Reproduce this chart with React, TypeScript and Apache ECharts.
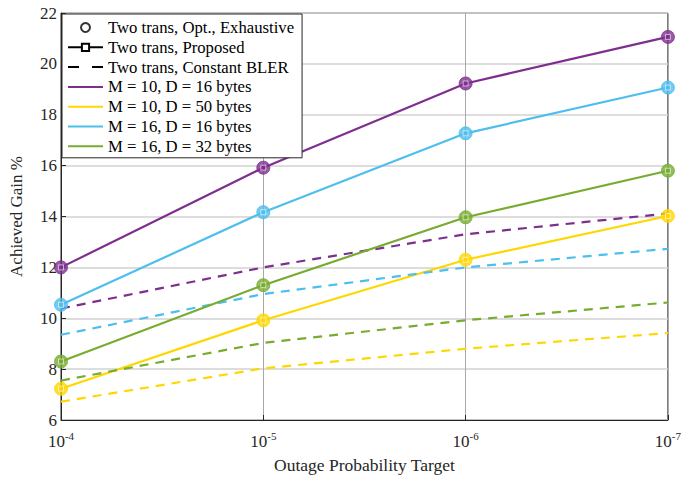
import React, { useEffect, useRef } from "react";
import * as echarts from "echarts";

// Outage probability targets (x axis, log scale, shown decreasing)
const outageTargets = [1e-4, 1e-5, 1e-6, 1e-7];

// Configurations: legend names and colours
const configNames = [
  "M = 10, D = 16 bytes",
  "M = 10, D = 50 bytes",
  "M = 16, D = 16 bytes",
  "M = 16, D = 32 bytes",
];
const configColors = ["#7E2F8E", "#FFD700", "#4DBEEE", "#77AC30"];

// Achieved gain (%) – proposed two-transmission scheme
const proposedM10D16 = [12.0, 15.92, 19.23, 21.06];
const proposedM10D50 = [7.23, 9.92, 12.3, 14.02];
const proposedM16D16 = [10.53, 14.17, 17.27, 19.07];
const proposedM16D32 = [8.3, 11.3, 13.97, 15.8];

// Exhaustive optimum
const exhaustiveM10D16 = [12.0, 15.92, 19.23, 21.06];
const exhaustiveM10D50 = [7.23, 9.92, 12.3, 14.02];
const exhaustiveM16D16 = [10.53, 14.17, 17.27, 19.07];
const exhaustiveM16D32 = [8.3, 11.3, 13.97, 15.8];

// Constant BLER baseline
const constantM10D16 = [10.38, 12.0, 13.3, 14.12];
const constantM10D50 = [6.72, 8.03, 8.8, 9.42];
const constantM16D16 = [9.35, 10.95, 12.0, 12.73];
const constantM16D32 = [7.55, 9.03, 9.92, 10.62];

const proposed = [proposedM10D16, proposedM10D50, proposedM16D16, proposedM16D32];
const exhaustive = [exhaustiveM10D16, exhaustiveM10D50, exhaustiveM16D16, exhaustiveM16D32];
const constant = [constantM10D16, constantM10D50, constantM16D16, constantM16D32];

const legendOpt = "Two trans, Opt., Exhaustive";
const legendProp = "Two trans, Proposed";
const legendConst = "Two trans, Constant BLER";

const FONT = "'Liberation Serif', 'Times New Roman', serif";

// Minor log grid positions between the decades
const minorGridValues: number[] = [];
for (let n = 4; n < 7; n++) {
  for (let k = 2; k <= 9; k++) minorGridValues.push(k * Math.pow(10, -(n + 1)));
}

const pairs = (ys: number[]) => outageTargets.map((x, i) => [x, ys[i]]);

export default function App() {
  const ref = useRef<HTMLDivElement>(null);

  useEffect(() => {
    if (!ref.current) return;
    const chart = echarts.init(ref.current, undefined, { renderer: "svg" });

    const series: any[] = [
      {
        name: legendOpt,
        type: "scatter",
        data: [],
        symbol: "circle",
        symbolSize: 10,
        itemStyle: { color: "#fff", borderColor: "#000", borderWidth: 3 },
      },
      {
        name: legendProp,
        type: "line",
        data: [],
        symbol: "rect",
        symbolSize: 6,
        itemStyle: { color: "#fff", borderColor: "#000", borderWidth: 2 },
        lineStyle: { color: "#000", width: 2.2 },
      },
      {
        name: legendConst,
        type: "line",
        data: [],
        symbol: "none",
        itemStyle: { color: "#000" },
        lineStyle: { color: "#000", width: 2.5, type: [9, 7] },
      },
      {
        name: "minor-grid",
        type: "line",
        data: [],
        silent: true,
        markLine: {
          silent: true,
          symbol: "none",
          label: { show: false },
          lineStyle: { color: "#d4d4d4", width: 1, type: [1.5, 2] },
          data: minorGridValues.map((v) => ({ xAxis: v })),
        },
      },
    ];

    configNames.forEach((name, i) => {
      const color = configColors[i];
      series.push({
        name,
        type: "line",
        data: pairs(proposed[i]),
        symbol: "none",
        z: 3,
        itemStyle: { color },
        lineStyle: { color, width: 2.2 },
      });
      series.push({
        name: name + " (constant BLER)",
        type: "line",
        data: pairs(constant[i]),
        symbol: "none",
        z: 3,
        itemStyle: { color },
        lineStyle: { color, width: 2.2, type: [9, 7] },
      });
      series.push({
        name: name + " (exhaustive)",
        type: "scatter",
        data: pairs(exhaustive[i]),
        symbol: "circle",
        symbolSize: 13,
        z: 4,
        itemStyle: { color, borderColor: color, borderWidth: 1 },
      });
      series.push({
        name: name + " (proposed)",
        type: "scatter",
        data: pairs(proposed[i]),
        symbol: "rect",
        symbolSize: 5,
        z: 5,
        itemStyle: { color, borderColor: "rgba(255,255,255,0.75)", borderWidth: 1 },
      });
    });

    const hiddenSymbol = { opacity: 0 };

    chart.setOption({
      animation: false,
      backgroundColor: "#fff",
      grid: {
        left: 60,
        right: 11,
        top: 13,
        bottom: 55,
        show: true,
        borderColor: "#262626",
        borderWidth: 1,
        backgroundColor: "transparent",
      },
      legend: {
        orient: "vertical",
        left: 62,
        top: 14,
        padding: [5, 8, 3, 5],
        itemWidth: 35,
        itemHeight: 9,
        itemGap: 2.8,
        backgroundColor: "#fff",
        borderColor: "#262626",
        borderWidth: 1,
        textStyle: { fontFamily: FONT, fontSize: 16.7, color: "#000" },
        data: [
          { name: legendOpt },
          { name: legendProp },
          { name: legendConst, itemStyle: hiddenSymbol, lineStyle: { type: [11, 13] } },
          ...configNames.map((n) => ({ name: n, itemStyle: hiddenSymbol })),
        ],
        selectedMode: false,
      },
      xAxis: {
        type: "log",
        logBase: 10,
        min: 1e-7,
        max: 1e-4,
        inverse: true,
        name: "Outage Probability Target",
        nameLocation: "middle",
        nameGap: 36,
        nameTextStyle: { fontFamily: FONT, fontSize: 17.5, color: "#262626" },
        axisLine: { lineStyle: { color: "#262626", width: 1 } },
        axisTick: { inside: true, length: 5, lineStyle: { color: "#262626" } },
        axisLabel: {
          margin: 10,
          formatter: (v: number) => `{b|10}{s|${Math.round(Math.log10(v))}}`,
          rich: {
            b: { fontFamily: FONT, fontSize: 17, color: "#262626", verticalAlign: "bottom", lineHeight: 20 },
            s: { fontFamily: FONT, fontSize: 11, color: "#262626", verticalAlign: "top", lineHeight: 20, padding: [0, 0, 9, 0] },
          },
        },
        splitLine: { show: true, lineStyle: { color: "#a8a8a8", width: 1 } },
      },
      yAxis: {
        type: "value",
        min: 6,
        max: 22,
        interval: 2,
        name: "Achieved Gain %",
        nameLocation: "middle",
        nameGap: 36,
        nameTextStyle: { fontFamily: FONT, fontSize: 17, color: "#262626" },
        axisLine: { show: true, lineStyle: { color: "#262626", width: 1 } },
        axisTick: { show: true, inside: true, length: 5, lineStyle: { color: "#262626" } },
        axisLabel: { fontFamily: FONT, fontSize: 17, color: "#262626", margin: 4 },
        splitLine: { show: true, lineStyle: { color: "#d2d2d2", width: 1.5 } },
      },
      series,
    });

    return () => chart.dispose();
  }, []);

  return (
    <div
      ref={ref}
      style={{ position: "fixed", left: 0, top: 0, width: 684, height: 479 }}
    />
  );
}
